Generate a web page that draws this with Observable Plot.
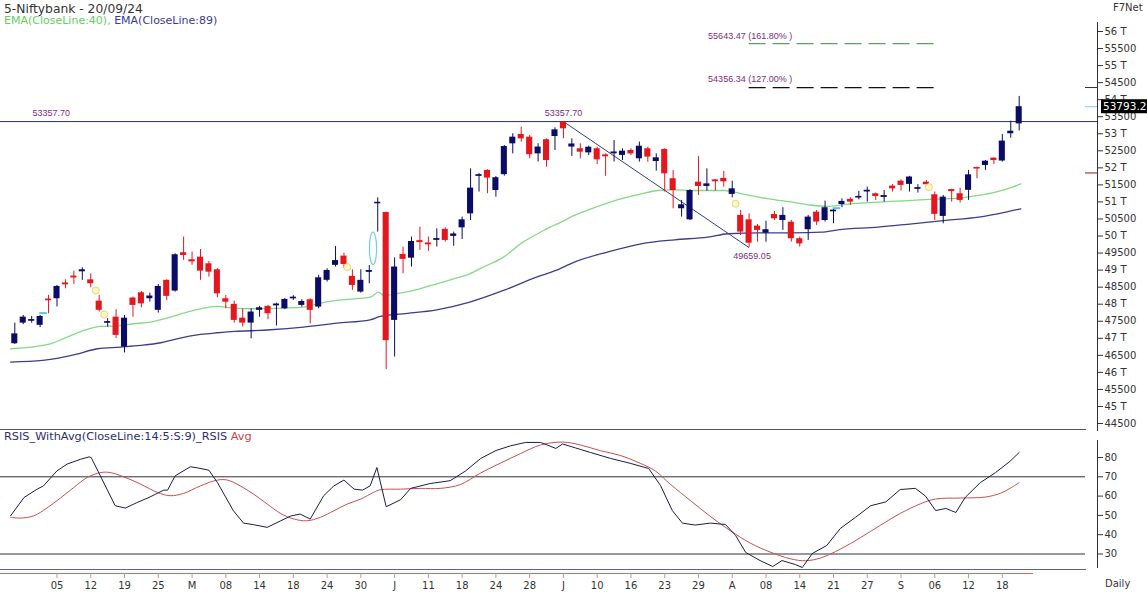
<!DOCTYPE html>
<html><head><meta charset="utf-8">
<script src="https://cdn.jsdelivr.net/npm/d3@7"></script>
<script src="https://cdn.jsdelivr.net/npm/@observablehq/plot@0.6"></script>
<style>
body{margin:0;background:#fff;font-family:"DejaVu Sans",Verdana,sans-serif;}
#wrap{position:relative;width:1147px;height:593px;overflow:hidden;background:#fff;}
.abs{position:absolute;white-space:nowrap;line-height:1;}
#wrap svg{position:absolute;left:0;}
</style></head><body><div id="wrap"></div>
<script>
// ---------- DATA ----------
const opens = [46840,47445,47530,47380,48150,48160,48620,48825,48950,48715,48090,47470,47620,46740,48180,48335,48160,47820,48700,48385,49510,49300,49380,49185,49010,48160,47995,47590,47445,47820,47935,47980,47866,48190,47965,48130,47915,48700,49140,49410,48815,48355,48960,50945,50690,47525,49460,49350,49860,49790,49900,50195,49990,50240,50650,51780,51925,51335,51800,52705,52980,52900,52410,52825,52920,53340,52610,52560,52440,52560,52375,52440,52365,52510,52265,52560,52185,52540,51680,50800,50475,51580,51455,51640,51690,51220,50605,50475,50290,50085,50630,50455,50405,49920,50185,50700,50455,50740,50925,51075,51145,51320,51240,51160,51465,51610,51515,51400,51580,51210,50575,51360,51240,51340,52010,52070,52285,52200,53000,53290];
const highs = [47445,47670,47640,47670,48260,48550,48716,48970,49070,48890,48260,47575,47840,47670,48210,48375,48325,48580,48715,49480,49970,49530,49605,49255,49040,48255,48090,47865,47865,47935,47965,48030,48165,48250,48130,48160,48845,49040,49690,49500,49010,49010,49135,51120,50700,49360,49675,49970,50260,49970,50210,50240,50115,50555,51970,51830,51945,51745,52655,53000,53195,52950,52705,52850,53175,53357.7,52850,52705,52635,52605,52410,52800,52560,52560,52755,52605,52410,52560,51925,51045,51360,52330,51970,51660,51895,51610,50750,50650,50340,50435,50720,50830,50455,49970,50605,50750,51025,50800,51090,51120,51310,51435,51260,51335,51510,51650,51750,51505,51630,51290,51190,51370,51405,51925,52020,52215,52295,52980,53370,54095];
const lows = [46820,47400,47440,47310,47720,47920,48452,48580,48700,48480,47770,47330,46990,46570,47620,47895,48060,47740,48110,48355,49285,49140,48700,48795,48190,47865,47445,47330,46985,47620,47545,47360,47840,48110,47915,47425,47865,48650,49090,49040,48405,48325,48600,50115,46080,46450,48890,49090,49580,49550,49680,49820,49700,49900,50455,51290,51240,51140,51760,52410,52755,52265,52170,52020,52510,52855,52335,52265,52360,52100,51750,52170,52215,52360,52170,52165,51905,51290,50800,50555,50455,51190,51315,51315,51435,51120,50015,49659.05,49820,49820,50455,50165,49820,49675,49870,50310,50410,50360,50830,50900,51060,50995,51045,50995,51290,51320,51290,51260,51415,50455,50360,50995,50965,51045,51680,51925,52100,52170,52870,53080];
const closes = [47130,47620,47545,47640,48100,48520,48590,48770,49010,48600,47820,47485,47085,47590,47965,48010,48240,48520,48230,49450,49430,49260,48970,48940,48305,48060,47525,47445,47770,47895,47720,48000,48140,48200,48080,47820,48775,48990,49280,49165,48550,48700,48985,50990,46930,49090,49315,49840,49830,49770,49920,49870,50060,50475,51405,51795,51700,51710,52625,52900,52850,52385,52610,52215,53115,53145,52700,52460,52605,52235,52350,52460,52490,52410,52635,52315,52295,51825,51335,50915,51335,51455,51530,51620,51590,51385,50115,49790,50165,50185,50505,50605,49920,49770,50555,50410,50830,50755,51015,50995,51160,51340,51160,51180,51385,51485,51730,51415,51505,50635,51140,51320,51045,51795,51995,52195,52215,52785,53075,53793.2];

const ema40Idx = [-0.5,4.2,6.2,8.2,10.2,11.7,14.1,16.1,18,20,22,24,26,28,30,31.5,34.2,36.2,38.2,40.2,42.1,43.1,43.7,45.6,48,50,52,53.9,55.5,57.9,60.2,61.8,63.4,64.3,66.3,68.3,70.2,72.2,74.2,76.2,78.2,80.2,82.1,84.1,86.1,88.1,90.1,92.1,94.2,96.3,98.3,100.3,102.3,104.3,106.3,108.3,110.3,112.2,114.2,116.2,118.2,119.2];
const ema40Vals = [46693,46839,47035,47230,47348,47357,47426,47475,47592,47739,47866,47935,47880,47866,47870,47886,47915,48032,48110,48159,48208,48355,48257,48325,48452,48599,48746,48892,49088,49381,49821,50046,50261,50359,50603,50799,50965,51121,51239,51336,51356,51336,51336,51336,51239,51141,51063,50994,50910,50868,50926,50965,50995,51024,51044,51073,51092,51122,51190,51288,51435,51532];
const ema89Idx = [-0.5,3.3,5.2,7.2,9.8,12.5,14.9,17.3,19.2,22,24,26,28,30.3,34.2,38.2,42.1,43.3,46,50,53.9,57.9,61.8,64.1,66.3,70.2,74.2,78.2,82.1,84.5,88.1,92.1,95.6,97.5,102.3,106.3,110.3,114.2,117.4,119.2];
const ema89Vals = [46302,46351,46419,46526,46693,46742,46790,46869,46986,47113,47162,47201,47221,47250,47328,47445,47543,47641,47719,47836,48061,48403,48794,48990,49234,49528,49772,49889,49968,50066,50095,50095,50114,50183,50261,50359,50457,50554,50701,50799];

const rsiIdx = [-0.5,1.1,2.65,3.4,5.0,6.2,7.8,8.8,9.05,11.9,13.1,14.5,15.9,17.65,18.1,19.0,20.8,21.8,23.0,24.0,25.9,27.1,28.3,29.9,31.5,32.7,33.8,35.0,36.6,37.8,39.0,40.2,41.2,42.1,42.9,44.0,45.7,46.9,49.2,51.6,53.4,55.2,57.0,58.7,60.5,62.3,64.1,64.9,66.4,68.2,70.6,72.9,75.1,76.5,77.9,79.1,80.6,82.4,84.2,85.4,86.6,88.3,89.8,90.9,92.5,93.3,94.5,96.2,97.8,99.6,101.4,103.2,104.9,106.7,107.9,109.1,110.3,111.5,112.6,114.4,116.2,117.9,119.0];
const rsiVals = [49.8,59.3,63.6,65.3,73.1,76.6,79.1,80.3,80.0,55.0,53.8,56.7,59.3,63.1,63.1,70.5,75.2,74.5,73.4,67.1,52.4,46.0,45.2,43.8,47.2,49.7,50.7,48.1,60.2,65.3,68.3,63.6,63.1,65.3,74.8,54.5,58.1,64,66.5,68,73,79.5,83.6,86,87.8,87.8,84.7,87,85,82.6,79.5,77,74.3,65.5,52.5,46,45,46,45.3,39.6,30.8,26.6,23.5,26.6,24.5,23,30.3,34.4,43.2,49,55,57,63.4,64,60,52.5,53.6,51.5,59.3,67,72.2,78,82.6];
const avgIdx = [-0.5,0.7,2.25,3.8,5.4,7.0,8.6,10.2,11.3,12.9,14.9,16.9,18.4,20.0,22.0,24.0,25.2,26.7,28.3,29.9,31.5,33.1,34.6,36.2,37.8,39.4,40.96,42.5,43.3,45.7,48.1,50.4,52.8,55.2,57.5,59.9,62.3,64.9,67.0,69.4,71.8,74.1,75.9,77.7,80.1,82.4,84.8,87.2,89.5,91.9,93.7,95.5,97.8,100.2,102.6,104.9,107.3,109.1,112.0,115.0,116.8,117.9,119.0];
const avgVals = [49.0,48.6,49.8,53.8,59.0,64.5,69.7,72.2,72.2,70.0,66.2,61.9,60.2,61.4,65.3,68.3,68.3,65.3,61.0,55.9,51.0,48.1,47.2,49.0,52.4,55.9,58.4,61.9,63.3,63.6,64,64,66,72,77,82,86.5,88,86.5,83.5,81,77,73,66,57.5,49.5,42,35.5,31,27.5,26.5,28,32.5,38.5,45,51,56,58.5,59,59.5,61.5,64,67];

const priceTicks = [44500,45000,45500,46000,46500,47000,47500,48000,48500,49000,49500,50000,50500,51000,51500,52000,52500,53000,53500,54000,54500,55000,55500,56000];
const rsiTicks = [30,40,50,60,70,80];
const rsiLevels = [70,30];
const dateTickIdx = [5,9,13,17,21,25,29,33,37,41,45,49,53,57,61,65,69,73,77,81,85,89,93,97,101,105,109,113,117];
const dateTickLabels = ["05","12","19","25","M","08","14","18","24","30","J","11","18","24","28","J","10","16","23","29","A","08","14","21","27","S","06","12","18"];

const resistance = 53357.70;
const swingHigh = {i: 65, v: 53357.70};
const swingLow = {i: 87, v: 49659.05};
const fibLevels = [{v: 55643.47, pct: "161.80%", color: "#5f9f5f"}, {v: 54356.34, pct: "127.00%", color: "#111"}];
const fibEnd = 109;
const axisMarkers = [{v: 54356.34, c: "#2a2a7a"}, {v: 53793.2, c: "#7fc8e8"}, {v: 51850, c: "#8a1a1a"}];
const yellowMarks = [{i: 9.6, v: 48403}, {i: 10.6, v: 47700}, {i: 39.4, v: 49087}, {i: 85.4, v: 50946}, {i: 108.3, v: 51433}];
const cyanMarks = [{i: 3.4, v: 47738}, {i: 97.4, v: 50817}];
const gapEllipse = [{i: 42.5, lo: 49150, hi: 50100}];

// ---------- build tables ----------
const N = closes.length;
const bars = closes.map((c, i) => ({i, o: opens[i], h: highs[i], l: lows[i], c}));
const ema40 = ema40Idx.map((i, k) => ({i, v: ema40Vals[k]}));
const ema89 = ema89Idx.map((i, k) => ({i, v: ema89Vals[k]}));
const rsi = rsiIdx.map((i, k) => ({i, v: rsiVals[k]}));
const avg = avgIdx.map((i, k) => ({i, v: avgVals[k]}));
const lastClose = closes[N - 1];

const UP = "#0b0b68", DOWN = "#e5161e";
const col = d => d.c >= d.o ? UP : DOWN;
const HW = 0.36;
const xScale = {domain: [0, N - 1], range: [14.3, 1018.7], axis: null};
const baseStyle = {fontFamily: "'DejaVu Sans', Verdana, sans-serif", fontSize: "10px", color: "#333", background: "transparent", overflow: "visible"};
const annFont = "'Liberation Sans', Arial, sans-serif";

function priceBox(index, scales, values, dims) {
  const g = d3.create("svg:g");
  const yy = scales.y(lastClose);
  const x0 = dims.width - dims.marginRight + 4;
  g.append("rect").attr("x", x0).attr("y", yy - 7).attr("width", 60).attr("height", 14).attr("fill", "#000");
  g.append("text").attr("x", x0 + 2).attr("y", yy).attr("dy", "0.36em").attr("fill", "#fff").attr("text-anchor", "start")
    .attr("font-size", 10.5).attr("font-family", "'DejaVu Sans', Verdana, sans-serif").text(lastClose.toFixed(1));
  return g.node();
}
function ellipses(index, scales) {
  const g = d3.create("svg:g");
  for (const e of gapEllipse) {
    const y1 = scales.y(e.hi), y2 = scales.y(e.lo);
    g.append("ellipse").attr("cx", scales.x(e.i)).attr("cy", (y1 + y2) / 2).attr("rx", 3.6).attr("ry", (y2 - y1) / 2)
      .attr("fill", "none").attr("stroke", "#6fd0dc").attr("stroke-width", 1.2);
  }
  return g.node();
}

const main = Plot.plot({
  width: 1147, height: 430,
  marginLeft: 0, marginRight: 50, marginTop: 22, marginBottom: 0,
  style: baseStyle,
  x: xScale,
  y: {domain: [44500, 56000], range: [423, 31], axis: null},
  marks: [
    Plot.frame({anchor: "right", stroke: "#333"}),
    Plot.axisY({anchor: "right", label: null, ticks: priceTicks, tickSize: 5, tickPadding: 2, fontSize: 10, stroke: "#333",
      tickFormat: v => v % 1000 === 0 ? `${v / 1000} T` : String(v)}),
    Plot.ruleY(axisMarkers, {y: "v", stroke: "c", insetLeft: 1085}),
    Plot.line(ema89, {x: "i", y: "v", stroke: "#3d3d8c", strokeWidth: 1.3, curve: "monotone-x"}),
    Plot.line(ema40, {x: "i", y: "v", stroke: "#86d886", strokeWidth: 1.3, curve: "monotone-x"}),
    Plot.ruleY([resistance], {stroke: "#2b2b7c", strokeWidth: 1}),
    Plot.link([{}], {x1: swingHigh.i, y1: swingHigh.v, x2: swingLow.i, y2: swingLow.v, stroke: "#3a3a86", strokeWidth: 1}),
    Plot.ruleY(fibLevels, {y: "v", x1: swingLow.i, x2: fibEnd, stroke: "color", strokeDasharray: "17,7", strokeWidth: 1.2}),
    Plot.text(fibLevels, {x: swingLow.i, y: "v", dx: -41, dy: -8, textAnchor: "start", fill: "#7d2d7d", fontSize: 9, fontFamily: annFont,
      text: d => `${d.v.toFixed(2)} (${d.pct} )`}),
    Plot.text([resistance], {y: d => d, frameAnchor: "left", dx: 32, dy: -8, textAnchor: "start", fill: "#7d2d7d", fontSize: 9, fontFamily: annFont, text: d => d.toFixed(2)}),
    Plot.text([swingHigh], {x: "i", y: "v", dy: -8, fill: "#7d2d7d", fontSize: 9, fontFamily: annFont, text: d => d.v.toFixed(2)}),
    Plot.text([swingLow], {x: "i", y: "v", dx: 3, dy: 8, fill: "#7d2d7d", fontSize: 9, fontFamily: annFont, text: d => d.v.toFixed(2)}),
    Plot.ruleX(bars, {x: "i", y1: "l", y2: "h", stroke: col, strokeWidth: 1}),
    Plot.rect(bars, {x1: d => d.i - HW, x2: d => d.i + HW, y1: "o", y2: "c", fill: col}),
    Plot.ruleY(bars.filter(d => Math.abs(d.o - d.c) < 45), {y: d => (d.o + d.c) / 2, x1: d => d.i - HW, x2: d => d.i + HW, stroke: col, strokeWidth: 1.6}),
    Plot.dot(yellowMarks, {x: "i", y: "v", r: 3.5, stroke: "#e6d77a", fill: "#fff6c4", strokeWidth: 1}),
    Plot.ruleY(cyanMarks, {y: "v", x1: d => d.i - 0.45, x2: d => d.i + 0.45, stroke: "#55c8dc", strokeWidth: 2}),
    ellipses,
    priceBox
  ]
});
main.style.top = "0px";

const rsiPlot = Plot.plot({
  width: 1147, height: 164,
  marginLeft: 0, marginRight: 50, marginTop: 0, marginBottom: 24,
  style: baseStyle,
  x: xScale,
  y: {domain: [30, 80], range: [124.5, 28], axis: null},
  marks: [
    Plot.frame({anchor: "top", stroke: "#555", insetRight: 12}),
    Plot.frame({anchor: "bottom", stroke: "#666", insetRight: 12}),
    Plot.frame({anchor: "bottom", stroke: "#d66", insetRight: 65, dy: 4}),
    Plot.frame({anchor: "right", stroke: "#333", insetTop: 11, insetBottom: 2}),
    Plot.ruleY(rsiLevels, {stroke: "#333", insetRight: 12}),
    Plot.line(avg, {x: "i", y: "v", stroke: "#c85050", strokeWidth: 1, curve: "catmull-rom"}),
    Plot.line(rsi, {x: "i", y: "v", stroke: "#1c1c48", strokeWidth: 1}),
    Plot.axisY({anchor: "right", label: null, ticks: rsiTicks, tickSize: 5, tickPadding: 2, fontSize: 10, stroke: "#333"}),
    Plot.axisX({label: null, ticks: dateTickIdx, tickFormat: i => dateTickLabels[dateTickIdx.indexOf(i)], dy: 4, tickSize: 5, tickPadding: 3, fontSize: 10, stroke: "#d88", fill: "#333"})
  ]
});
rsiPlot.style.top = "429px";

const wrap = document.getElementById("wrap");
wrap.append(main, rsiPlot);

function addText(txt, left, top, size, color, extra) {
  const d = document.createElement("div");
  d.className = "abs";
  d.style.left = left + "px"; d.style.top = top + "px";
  d.style.fontSize = size + "px"; d.style.color = color;
  if (extra) d.innerHTML = extra; else d.textContent = txt;
  wrap.append(d);
  return d;
}
addText("5-Niftybank - 20/09/24", 4, 3, 12.3, "#333");
addText("", 4, 15, 11, "#333", '<span style="color:#66cc66">EMA(CloseLine:40), </span><span style="color:#3a3a92">EMA(CloseLine:89)</span>');
addText("F7Net", 1113, 3, 10, "#333");
addText("", 4, 431, 11.3, "#333", '<span style="color:#2e2e70">RSIS_WithAvg(CloseLine:14:5:S:9)_RSIS</span> <span style="color:#c84848">Avg</span>');
addText("Daily", 1105, 579, 10, "#333");
</script>
</body></html>
